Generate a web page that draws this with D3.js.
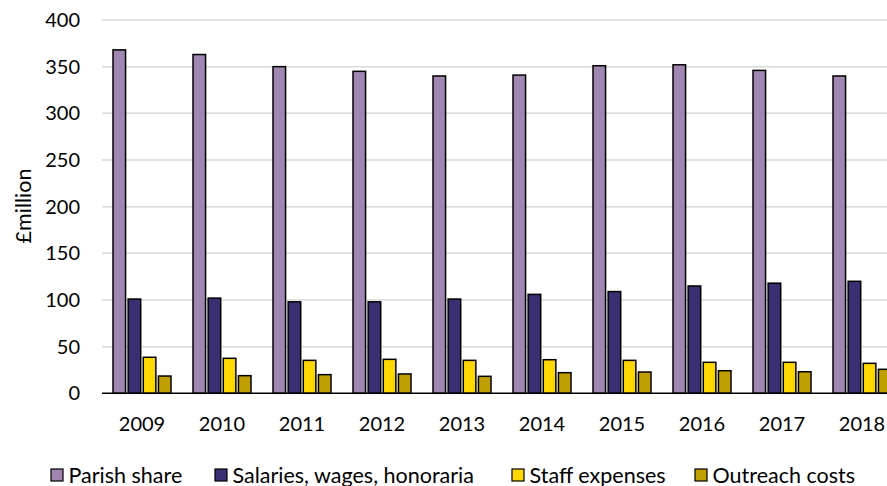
<!DOCTYPE html>
<html><head><meta charset="utf-8">
<script src="https://cdn.jsdelivr.net/npm/d3@7"></script>
<style>
body{margin:0;background:#fff;}
svg{display:block;}
text{font-family:Lato, "Open Sans", sans-serif;fill:#000;}
</style></head>
<body>
<svg id="chart" width="887" height="486"></svg>
<script>
const years = ["2009","2010","2011","2012","2013","2014","2015","2016","2017","2018"];
const seriesNames = ["Parish share","Salaries, wages, honoraria","Staff expenses","Outreach costs"];
const parishShare = [368,363,350,345,340,341,351,352,346,340];
const salaries = [101,102,98,98,101,106,109,115,118,120];
const staffExpenses = [38.6,37.5,35.3,36.4,35.3,36,35.3,33.2,33.2,32.1];
const outreach = [18.5,18.9,20,20.7,18.2,22.1,22.8,24.2,23.1,25.7];
const yTicks = [0,50,100,150,200,250,300,350,400];
const colors = ["#A086B1","#3B2F73","#FFD800","#BFA000"];

(function(){
const allSeries = [parishShare, salaries, staffExpenses, outreach];
const svg = d3.select("#chart");
const mLeft = 102, mRight = 902, mTop = 20, mBottom = 393.3;

const x = d3.scaleBand().domain(years).range([mLeft, mRight]).paddingInner(0).paddingOuter(0);
const y = d3.scaleLinear().domain([0,400]).range([mBottom, mTop]);
const groupW = 58;
const xs = d3.scaleBand().domain(d3.range(4)).range([0, groupW]).paddingInner(0.17).paddingOuter(0);

svg.append("g").selectAll("line").data(yTicks.filter(d=>d>0)).join("line")
  .attr("x1", mLeft).attr("x2", 887)
  .attr("y1", d=>y(d)).attr("y2", d=>y(d))
  .attr("stroke", "#d9d9d9").attr("stroke-width", 1.5);

svg.append("g").selectAll("text").data(yTicks).join("text")
  .attr("x", 80).attr("y", d=>y(d)).attr("dy","0.35em")
  .attr("text-anchor","end").style("font-size","20px").text(d=>d);

const g = svg.append("g");
years.forEach((yr, i) => {
  const gx = x(yr) + (x.bandwidth() - groupW)/2;
  allSeries.forEach((s, k) => {
    g.append("rect")
      .attr("x", gx + xs(k)).attr("width", xs.bandwidth())
      .attr("y", y(s[i])).attr("height", y(0) - y(s[i]))
      .attr("fill", colors[k]).attr("stroke","#000").attr("stroke-width",1.5);
  });
});

svg.append("line").attr("x1", mLeft).attr("x2", 887).attr("y1", y(0)).attr("y2", y(0))
  .attr("stroke","#000").attr("stroke-width",1.5);

svg.append("g").selectAll("text").data(years).join("text")
  .attr("x", d=>x(d)+x.bandwidth()/2).attr("y", 431)
  .attr("text-anchor","middle").style("font-size","20px").text(d=>d);

svg.append("text").attr("transform","translate(31,206) rotate(-90)")
  .attr("text-anchor","middle").style("font-size","21.5px").text("£million");

const legX = [51, 215, 512, 695];
const lg = svg.append("g");
seriesNames.forEach((n,k)=>{
  lg.append("rect").attr("x", legX[k]).attr("y", 469).attr("width",12).attr("height",12)
    .attr("fill", colors[k]).attr("stroke","#000").attr("stroke-width",1.2);
  lg.append("text").attr("x", legX[k]+17.5).attr("y", 482.5)
    .style("font-size","21.5px").text(n);
});
})();
</script>
</body></html>
